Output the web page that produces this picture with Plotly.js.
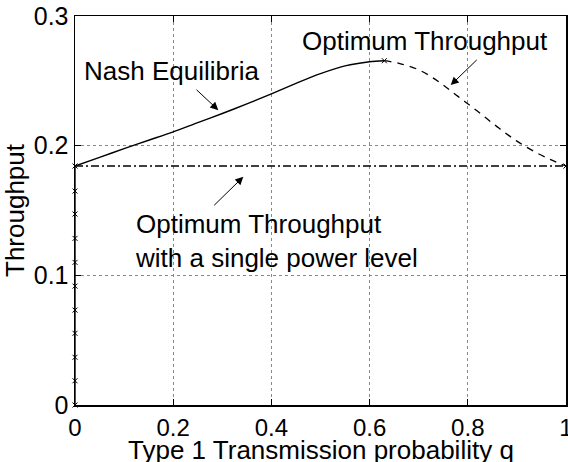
<!DOCTYPE html>
<html>
<head>
<meta charset="utf-8">
<script src="https://cdn.plot.ly/plotly-3.0.1.min.js"></script>
<style>
  html, body { margin: 0; padding: 0; background: #fff; }
  #chart { width: 568px; height: 462px; }
</style>
</head>
<body>
<div id="chart"></div>
<script>
// ---- Data ----
// Nash equilibria along q = 0 (vertical branch, markers)
const nashVertX = [0, 0, 0, 0, 0, 0, 0, 0, 0, 0, 0];
const nashVertY = [0, 0.0187, 0.0368, 0.0553, 0.0732, 0.0917, 0.110, 0.1285, 0.1473, 0.165, 0.1843];

// Nash equilibria curve (solid)
const nashCurveX = [0, 0.05, 0.1, 0.15, 0.2, 0.25, 0.3, 0.35, 0.4, 0.45, 0.5, 0.55, 0.6, 0.63];
const nashCurveY = [0.1843, 0.1910, 0.1977, 0.2042, 0.2107, 0.2178, 0.2248, 0.2322, 0.2400, 0.2480, 0.2555, 0.2615, 0.2647, 0.2655];

// Optimum throughput (dashed)
const optX = [0.63, 0.66, 0.70, 0.74, 0.78, 0.82, 0.86, 0.90, 0.94, 0.97, 1.0];
const optY = [0.2655, 0.2635, 0.2585, 0.2495, 0.2380, 0.2265, 0.2145, 0.2035, 0.1945, 0.189, 0.1843];

// Optimum throughput with a single power level (dash-dot)
const singleX = [0, 1];
const singleY = [0.1843, 0.1843];

// Marked points (x markers)
const peakX = [0.63, 1.0];
const peakY = [0.2655, 0.1843];

// Tick labels
const xTickVals = [0, 0.2, 0.4, 0.6, 0.8, 1];
const xTickText = ['0', '0.2', '0.4', '0.6', '0.8', '1'];
const yTickVals = [0, 0.1, 0.2, 0.3];
const yTickText = ['0', '0.1', '0.2', '0.3'];

// Texts
const labelNash = 'Nash Equilibria';
const labelOpt = 'Optimum Throughput';
const labelSingle = 'Optimum Throughput<br>with a single power level';
const xTitle = 'Type 1 Transmission probability q';
const yTitle = 'Throughput';

// ---- Styling ----
const FONT = 'Liberation Sans, Arial, Helvetica, sans-serif';
const ink = '#000';

const traces = [
  { x: singleX, y: singleY, mode: 'lines', line: { color: ink, width: 1.3, dash: '8px,3px,2px,3px' }, hoverinfo: 'skip' },
  { x: optX, y: optY, mode: 'lines', line: { color: ink, width: 1.3, dash: '7px,6px', shape: 'spline' }, hoverinfo: 'skip' },
  { x: nashCurveX, y: nashCurveY, mode: 'lines', line: { color: ink, width: 1.4, shape: 'spline', smoothing: 0.8 }, hoverinfo: 'skip' },
  { x: nashVertX, y: nashVertY, mode: 'lines+markers', line: { color: ink, width: 1.4 },
    marker: { symbol: 'x-thin', size: 5, line: { color: ink, width: 1 } }, cliponaxis: false, hoverinfo: 'skip' },
  { x: peakX, y: peakY, mode: 'markers',
    marker: { symbol: 'x-thin', size: 5, line: { color: ink, width: 1 } }, hoverinfo: 'skip' }
];

function arrow(tail, tip) {
  return { x: tip[0], y: tip[1], ax: tail[0], ay: tail[1], xref: 'x', yref: 'y', axref: 'x', ayref: 'y',
           text: '', showarrow: true, arrowhead: 2, arrowsize: 1.6, arrowwidth: 1, arrowcolor: ink, standoff: 0 };
}

const annFont = { family: FONT, size: 26, color: ink };

const layout = {
  width: 568, height: 462,
  margin: { l: 75, r: 2, t: 16, b: 57 },
  paper_bgcolor: '#fff', plot_bgcolor: '#fff',
  showlegend: false,
  font: { family: FONT, color: ink },
  xaxis: {
    range: [0, 1], tickvals: xTickVals, ticktext: xTickText,
    ticks: 'inside', ticklen: 6, tickwidth: 1, tickcolor: ink,
    showline: true, linecolor: ink, linewidth: 1.5, mirror: 'ticks',
    showgrid: true, gridcolor: '#888', griddash: 'dot', gridwidth: 1,
    zeroline: false, automargin: false, ticklabeloverflow: 'allow', ticklabelstandoff: 1,
    tickfont: { family: FONT, size: 24, color: ink }
  },
  yaxis: {
    range: [0, 0.3], tickvals: yTickVals, ticktext: yTickText,
    ticks: 'inside', ticklen: 6, tickwidth: 1, tickcolor: ink,
    showline: true, linecolor: ink, linewidth: 1.5, mirror: 'ticks',
    showgrid: true, gridcolor: '#888', griddash: 'dot', gridwidth: 1,
    zeroline: false, automargin: false, ticklabeloverflow: 'allow',
    tickfont: { family: FONT, size: 25, color: ink },
    title: { text: yTitle, font: { family: FONT, size: 26, color: ink }, standoff: 2 }
  },
  annotations: [
    // x-axis title, placed just below the tick labels (partly cut by the bottom edge, as in the reference)
    { x: 0.5, y: -0.072, xref: 'paper', yref: 'paper', text: xTitle, showarrow: false,
      xanchor: 'center', yanchor: 'top', font: { family: FONT, size: 26, color: ink } },
    { x: 0.1965, y: 0.2575, xref: 'x', yref: 'y', text: labelNash, showarrow: false,
      xanchor: 'center', yanchor: 'middle', font: annFont },
    { x: 0.7128, y: 0.2805, xref: 'x', yref: 'y', text: labelOpt, showarrow: false,
      xanchor: 'center', yanchor: 'middle', font: annFont },
    { x: 0.1187, y: 0.1265, xref: 'x', yref: 'y', text: labelSingle, showarrow: false,
      xanchor: 'left', yanchor: 'middle', align: 'left', font: annFont },
    arrow([0.2444, 0.2442], [0.2919, 0.2274]),
    arrow([0.8214, 0.2673], [0.7652, 0.2467]),
    arrow([0.2804, 0.1529], [0.3428, 0.1760])
  ]
};

Plotly.newPlot('chart', traces, layout, { staticPlot: true, displayModeBar: false });
</script>
</body>
</html>
